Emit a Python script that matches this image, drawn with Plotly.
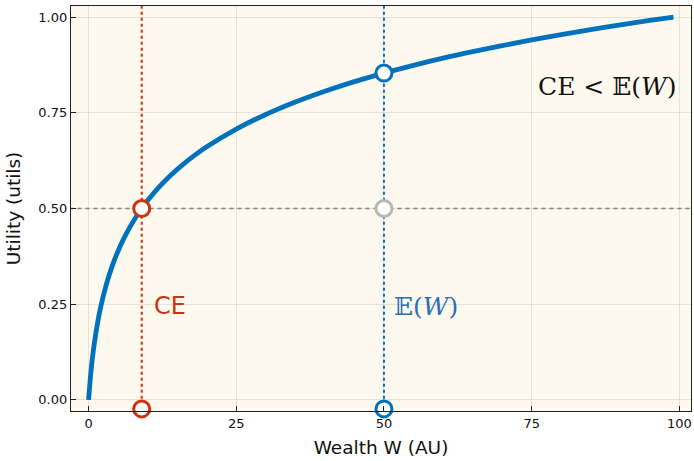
import plotly.graph_objects as go

# Utility curve points
wealth = [0, 0.5, 1, 2, 3, 4, 5, 6, 7, 8, 9, 10, 12, 14, 16, 18, 20, 25, 30, 35,
          40, 45, 50, 55, 60, 65, 70, 75, 80, 85, 90, 95, 99]
utility = [0.0, 0.088, 0.1505, 0.2386, 0.301, 0.3495, 0.3891, 0.4225, 0.4515, 0.4771,
           0.5, 0.5207, 0.557, 0.588, 0.6152, 0.6394, 0.6611, 0.7075, 0.7457, 0.7782,
           0.8064, 0.8314, 0.8538, 0.8741, 0.8927, 0.9097, 0.9256, 0.9404, 0.9542,
           0.9672, 0.9795, 0.9912, 1.0]

ce = 9
ew = 50
expected_utility = 0.5
u_ew = 0.8538
marker_floor = -0.0235

x_ticks = [0, 25, 50, 75, 100]
y_ticks = [0.0, 0.25, 0.5, 0.75, 1.0]
y_tick_labels = ["0.00", "0.25", "0.50", "0.75", "1.00"]

BLUE = "#0072BD"
RED = "#CC3311"
GRAY = "#808080"
LGRAY = "#B8B8B8"

fig = go.Figure()

# dashed guide lines
fig.add_trace(go.Scatter(x=[-10, 110], y=[expected_utility, expected_utility], mode="lines",
                         line=dict(color=GRAY, width=1.6, dash="4px,4px"), hoverinfo="skip"))
fig.add_trace(go.Scatter(x=[ce, ce], y=[-1, 2], mode="lines",
                         line=dict(color=RED, width=2, dash="3px,3px"), hoverinfo="skip"))
fig.add_trace(go.Scatter(x=[ew, ew], y=[-1, 2], mode="lines",
                         line=dict(color=BLUE, width=2, dash="3px,3px"), hoverinfo="skip"))

# utility curve
fig.add_trace(go.Scatter(x=wealth, y=utility, mode="lines",
                         line=dict(color=BLUE, width=4.8, shape="spline", smoothing=1.0)))

# markers
fig.add_trace(go.Scatter(x=[ce, ce], y=[expected_utility, marker_floor], mode="markers",
                         marker=dict(symbol="circle", size=16, color="white",
                                     line=dict(color=RED, width=3)), cliponaxis=False))
fig.add_trace(go.Scatter(x=[ew, ew], y=[u_ew, marker_floor], mode="markers",
                         marker=dict(symbol="circle", size=16, color="white",
                                     line=dict(color=BLUE, width=3)), cliponaxis=False))
fig.add_trace(go.Scatter(x=[ew], y=[expected_utility], mode="markers",
                         marker=dict(symbol="circle", size=16, color="white",
                                     line=dict(color=LGRAY, width=3)), cliponaxis=False))

fig.add_annotation(x=ce + 1.8, y=0.245, text="CE", showarrow=False, xanchor="left",
                   font=dict(family="DejaVu Sans", size=24, color=RED))
fig.add_annotation(x=ew + 1.3, y=0.245, text="𝔼(<i>W</i>)", showarrow=False, xanchor="left",
                   font=dict(family="DejaVu Serif", size=25, color="#2A6EB8"))
fig.add_annotation(x=100, y=0.82, text="CE < 𝔼(<i>W</i>)", showarrow=False, xanchor="right",
                   font=dict(family="DejaVu Serif", size=25, color="#111111"))

axis_common = dict(showline=True, linecolor="#222222", linewidth=1.2, mirror=True,
                   ticks="inside", ticklen=5, tickcolor="#222222",
                   showgrid=True, gridcolor="rgba(0,0,0,0.09)", gridwidth=1,
                   zeroline=False, tickfont=dict(family="DejaVu Sans", size=13, color="#111111"))

fig.update_layout(
    width=694, height=461,
    margin=dict(l=71, r=3, t=6, b=50),
    paper_bgcolor="white",
    plot_bgcolor="#FDF9EE",
    showlegend=False,
    xaxis=dict(range=[-2.97, 101.97], tickvals=x_ticks,
               title=dict(text="Wealth W (AU)", font=dict(family="DejaVu Sans", size=18.5, color="#111111"),
                          standoff=11), **axis_common),
    yaxis=dict(range=[-0.029, 1.029], tickvals=y_ticks, ticktext=y_tick_labels,
               title=dict(text="Utility (utils)", font=dict(family="DejaVu Sans", size=18.5, color="#111111"),
                          standoff=12), **axis_common),
)

fig.write_html("out.html", config={"displayModeBar": False},
               post_script="document.body.style.margin='0px';document.body.style.overflow='hidden';")
